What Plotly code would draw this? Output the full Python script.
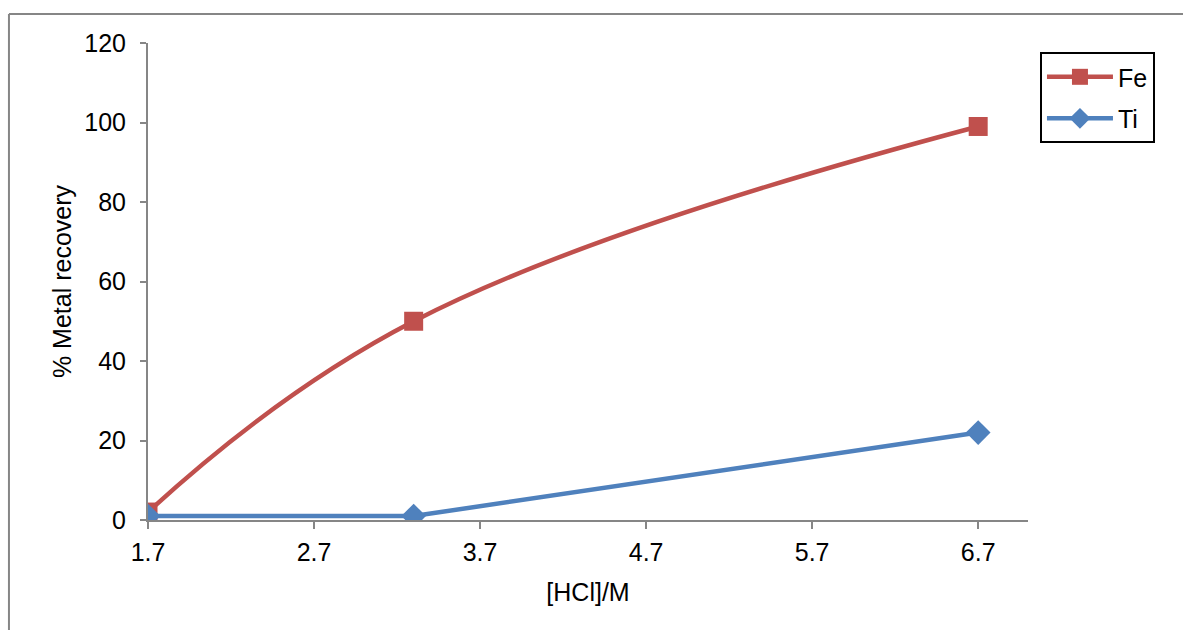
import plotly.graph_objects as go

# HCl concentration (M) and metal recovery (%)
hcl = [1.7, 3.3, 6.7]
fe_recovery = [2, 50, 99]
ti_recovery = [1, 1, 22]

x_ticks = [1.7, 2.7, 3.7, 4.7, 5.7, 6.7]
y_ticks = [0, 20, 40, 60, 80, 100, 120]

FONT = "Liberation Sans, Arial, sans-serif"
AXIS_GREY = "#868686"
TEXT_SIZE = 25

fig = go.Figure()
fig.add_trace(go.Scatter(
    x=hcl, y=fe_recovery, name="Fe", mode="lines+markers",
    line=dict(color="#C0504D", width=4.5, shape="spline", smoothing=1.2),
    marker=dict(symbol="square", size=19, color="#C0504D"),
    legendgroup="fe",
))
fig.add_trace(go.Scatter(
    x=hcl, y=ti_recovery, name="Ti", mode="lines+markers",
    line=dict(color="#4F81BD", width=4.5),
    marker=dict(symbol="diamond", size=19, color="#4F81BD"),
    legendgroup="ti",
))

fig.update_layout(
    width=1183, height=630,
    margin=dict(l=148, r=155, t=43, b=110),
    paper_bgcolor="white", plot_bgcolor="white",
    font=dict(family=FONT, size=TEXT_SIZE, color="black"),
    showlegend=True,
    legend=dict(
        x=1.0136, y=0.981, xanchor="left", yanchor="top",
        bordercolor="black", borderwidth=2, bgcolor="white",
        font=dict(family=FONT, size=TEXT_SIZE), tracegroupgap=6, itemwidth=66,
    ),
    xaxis=dict(
        range=[1.7, 7.0], tickmode="array", tickvals=x_ticks,
        ticktext=[f"{v:.1f}" for v in x_ticks],
        tickfont=dict(family=FONT, size=TEXT_SIZE),
        showgrid=False, zeroline=False, showline=True,
        linecolor=AXIS_GREY, linewidth=2,
        ticks="outside", ticklen=7, tickwidth=2, tickcolor=AXIS_GREY,
        ticklabelstandoff=2,
        title=dict(text="[HCl]/M", standoff=18, font=dict(family=FONT, size=TEXT_SIZE)),
    ),
    yaxis=dict(
        range=[0, 120], tickmode="array", tickvals=y_ticks,
        tickfont=dict(family=FONT, size=TEXT_SIZE),
        showgrid=False, zeroline=False, showline=True,
        linecolor=AXIS_GREY, linewidth=2,
        ticks="outside", ticklen=6, tickwidth=2, tickcolor=AXIS_GREY,
        ticklabelstandoff=9,
        title=dict(text="% Metal recovery", standoff=6, font=dict(family=FONT, size=TEXT_SIZE)),
    ),
    shapes=[
        # outer chart frame (left and top edges visible)
        dict(type="line", xref="paper", yref="paper",
             x0=-0.158, x1=-0.158, y0=1.0608, y1=-0.26,
             line=dict(color=AXIS_GREY, width=2)),
        dict(type="line", xref="paper", yref="paper",
             x0=-0.158, x1=1.2, y0=1.0608, y1=1.0608,
             line=dict(color=AXIS_GREY, width=2)),
    ],
)

fig.write_html("out.html")
